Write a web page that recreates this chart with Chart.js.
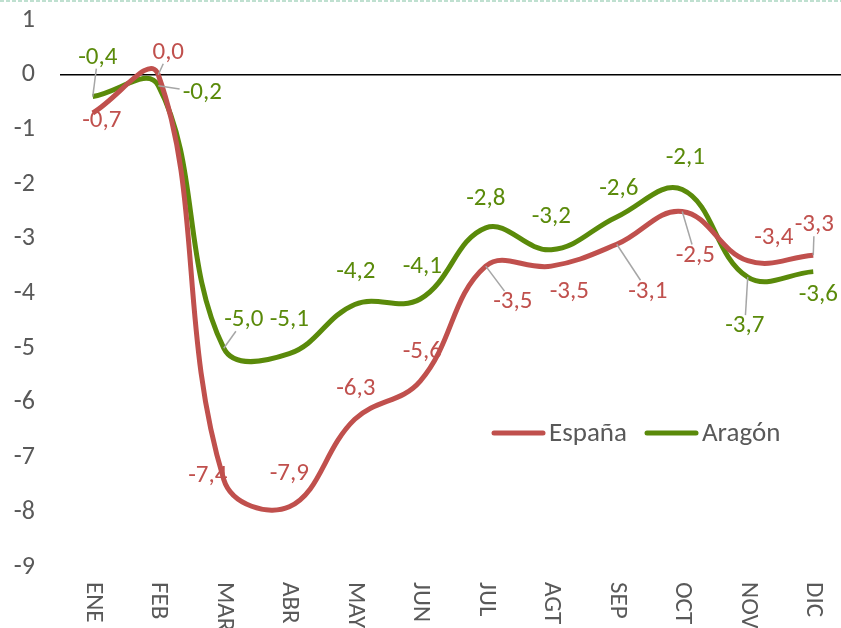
<!DOCTYPE html>
<html>
<head>
<meta charset="utf-8">
<script src="https://cdn.jsdelivr.net/npm/chart.js@4"></script>
<style>
    html, body { margin: 0; padding: 0; background: #fff; overflow: hidden; }
    #wrap { position: relative; width: 846px; height: 628px; }
</style>
</head>
<body>
<div id="wrap"><canvas id="chart"></canvas></div>
<script>
const months = ['ENE', 'FEB', 'MAR', 'ABR', 'MAY', 'JUN', 'JUL', 'AGT', 'SEP', 'OCT', 'NOV', 'DIC'];
const espana = [-0.7, 0.0, -7.4, -7.9, -6.3, -5.6, -3.5, -3.5, -3.1, -2.5, -3.4, -3.3];
const aragon = [-0.4, -0.2, -5.0, -5.1, -4.2, -4.1, -2.8, -3.2, -2.6, -2.1, -3.7, -3.6];
const yTicks = [1, 0, -1, -2, -3, -4, -5, -6, -7, -8, -9];

const RED = '#C0504D';
const GREEN = '#5A8A0A';
const FONT = 'Carlito, Lato, sans-serif';

// where each data label sits relative to its point: [dx, dy, leader line?]
const espanaLabelPos = [
    [9, 8, false], [10, -22, true], [-16, -4, false], [0, -33, false],
    [1, -31, false], [2, -29, false], [27, 36, true], [18, 26, false],
    [31, 47, true], [13, 44, true], [26, -23, false], [1, -30, true]
];
const aragonLabelPos = [
    [5, -39, true], [44, 7, true], [20, -28, true], [0, -34, false],
    [1, -33, false], [2, -32, false], [0, -29, false], [0, -33, false],
    [2, -28, false], [3, -32, false], [-3, 49, true], [5, 23, false]
];

const fmt = v => v.toFixed(1).replace('.', ',');

const decorPlugin = {
    id: 'decor',
    beforeDraw(chart) {
        const ctx = chart.ctx;
        ctx.save();
        ctx.strokeStyle = '#BFE0D0';
        ctx.lineWidth = 2;
        ctx.setLineDash([4, 2]);
        ctx.beginPath();
        ctx.moveTo(0, 1);
        ctx.lineTo(chart.width, 1);
        ctx.stroke();
        ctx.restore();
    },
    afterDatasetsDraw(chart) {
        const ctx = chart.ctx;
        const sets = [
            { meta: chart.getDatasetMeta(0), vals: espana, pos: espanaLabelPos, color: RED },
            { meta: chart.getDatasetMeta(1), vals: aragon, pos: aragonLabelPos, color: GREEN }
        ];
        ctx.save();
        ctx.font = '25px ' + FONT;
        ctx.textAlign = 'center';
        ctx.textBaseline = 'middle';
        sets.forEach(s => {
            s.meta.data.forEach((pt, i) => {
                const [dx, dy, leader] = s.pos[i];
                const text = fmt(s.vals[i]);
                const cx = pt.x + dx;
                const cy = pt.y + dy;
                if (leader) {
                    const hw = ctx.measureText(text).width / 2 + 3;
                    const hh = 11;
                    const tx = dx !== 0 ? hw / Math.abs(dx) : Infinity;
                    const ty = dy !== 0 ? hh / Math.abs(dy) : Infinity;
                    const t = 1 - Math.min(tx, ty);
                    if (t > 0) {
                        ctx.strokeStyle = '#A6A6A6';
                        ctx.lineWidth = 1.5;
                        ctx.beginPath();
                        ctx.moveTo(pt.x, pt.y);
                        ctx.lineTo(pt.x + dx * t, pt.y + dy * t);
                        ctx.stroke();
                    }
                }
                ctx.fillStyle = s.color;
                ctx.fillText(text, cx, cy);
            });
        });
        ctx.restore();
    },
    afterDraw(chart) {
        const ctx = chart.ctx;
        const xScale = chart.scales.x;
        ctx.save();
        // month labels, turned clockwise
        ctx.fillStyle = '#595959';
        ctx.font = '25px ' + FONT;
        ctx.textAlign = 'left';
        ctx.textBaseline = 'middle';
        months.forEach((m, i) => {
            const x = xScale.getPixelForValue(i);
            ctx.save();
            ctx.translate(x, 582);
            ctx.rotate(Math.PI / 2);
            ctx.fillText(m, 0, 0);
            ctx.restore();
        });

        // legend inside the plot
        const items = [
            { label: 'España', color: RED, x: 492 },
            { label: 'Aragón', color: GREEN, x: 645 }
        ];
        ctx.font = '27px ' + FONT;
        ctx.lineCap = 'round';
        items.forEach(it => {
            ctx.strokeStyle = it.color;
            ctx.lineWidth = 5;
            ctx.beginPath();
            ctx.moveTo(it.x + 2, 433);
            ctx.lineTo(it.x + 51, 433);
            ctx.stroke();
            ctx.fillStyle = '#595959';
            ctx.fillText(it.label, it.x + 57, 434);
        });
        ctx.restore();
    }
};

new Chart(document.getElementById('chart'), {
    type: 'line',
    data: {
        labels: months,
        datasets: [
            {
                label: 'España',
                data: espana,
                borderColor: RED,
                borderWidth: 5,
                pointRadius: 0,
                tension: 0.4
            },
            {
                label: 'Aragón',
                data: aragon,
                borderColor: GREEN,
                borderWidth: 5,
                pointRadius: 0,
                tension: 0.4
            }
        ]
    },
    options: {
        responsive: true,
        maintainAspectRatio: false,
        animation: false,
        layout: { padding: { top: 20, left: 0, right: 0, bottom: 0 } },
        plugins: {
            legend: { display: false },
            tooltip: { enabled: false }
        },
        scales: {
            x: {
                offset: true,
                grid: { display: false },
                border: { display: false },
                ticks: { display: false },
                afterFit: scale => { scale.height = 61; }
            },
            y: {
                min: -9,
                max: 1,
                afterBuildTicks: scale => {
                    scale.ticks = yTicks.map(v => ({ value: v }));
                },
                afterFit: scale => {
                    scale.width = 60;
                    scale.paddingTop = 0;
                    scale.paddingBottom = 0;
                },
                border: { display: false },
                grid: {
                    drawTicks: false,
                    color: c => (c.tick && c.tick.value === 0 ? '#000000' : 'rgba(0,0,0,0)'),
                    lineWidth: c => (c.tick && c.tick.value === 0 ? 1.5 : 0)
                },
                ticks: {
                    padding: 25,
                    color: '#595959',
                    font: { family: FONT, size: 26 }
                }
            }
        }
    },
    plugins: [decorPlugin]
});
</script>
</body>
</html>
